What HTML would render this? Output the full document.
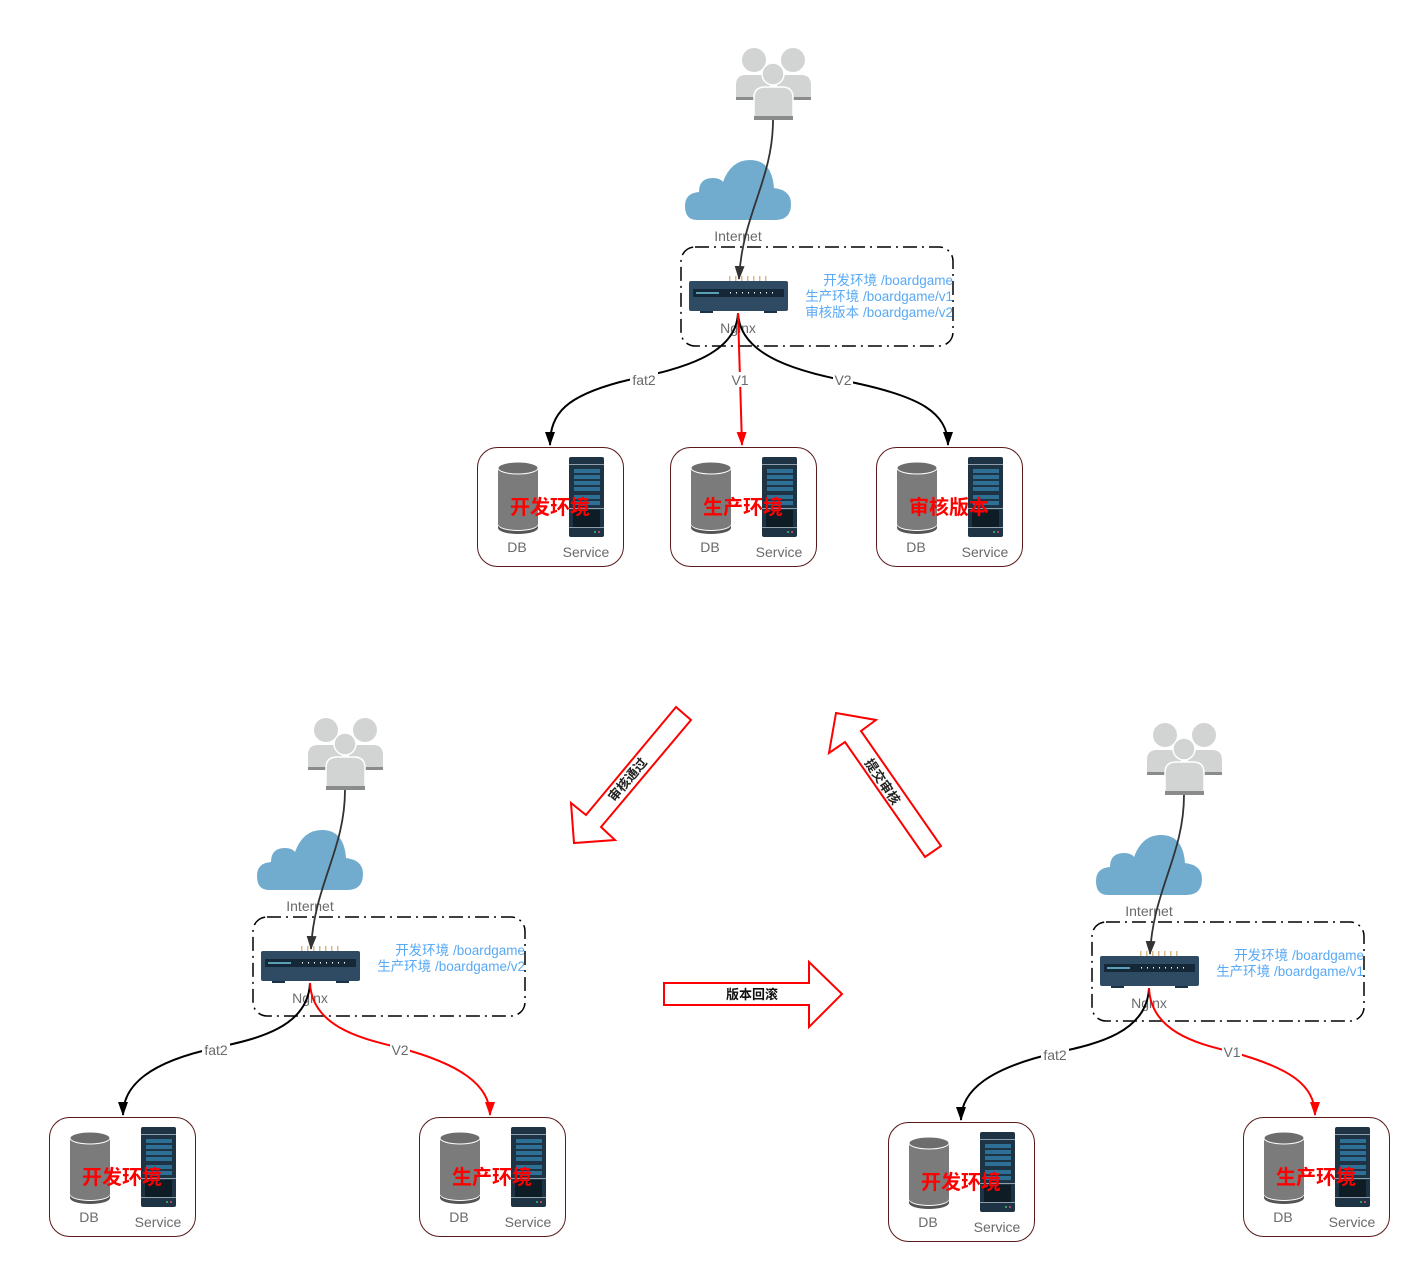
<!DOCTYPE html>
<html><head><meta charset="utf-8"><style>
html,body{margin:0;padding:0;background:#fff;}
svg{display:block;font-family:"Liberation Sans","Noto Sans CJK SC",sans-serif;}
.lbl{font-size:14px;fill:#6a6a6a;}
.route{font-size:13.5px;fill:#58a9f5;}
.title{font-size:20px;font-weight:bold;fill:#ff0000;}
.elbl{font-size:14px;fill:#6a6a6a;}
</style></head><body>
<svg width="1422" height="1274" viewBox="0 0 1422 1274" xmlns="http://www.w3.org/2000/svg">
<defs>
<marker id="ab" viewBox="0 0 14 10" refX="13" refY="5" markerWidth="14" markerHeight="10" orient="auto" markerUnits="userSpaceOnUse"><path d="M0,0 L14,5 L0,10 z" fill="#000"/></marker>
<marker id="ag" viewBox="0 0 14 10" refX="13" refY="5" markerWidth="14" markerHeight="10" orient="auto" markerUnits="userSpaceOnUse"><path d="M0,0 L14,5 L0,10 z" fill="#333"/></marker>
<marker id="ar" viewBox="0 0 14 10" refX="13" refY="5" markerWidth="14" markerHeight="10" orient="auto" markerUnits="userSpaceOnUse"><path d="M0,0 L14,5 L0,10 z" fill="#f00"/></marker>
<g id="users">
 <circle cx="18" cy="13" r="12" fill="#d2d3d3" stroke="#9a9a9a" stroke-width="0" /><circle cx="57" cy="13" r="12" fill="#d2d3d3"/>
 <path d="M0,53 L0,38 Q0,28 10,28 L26,28 Q34,28 34,38 L34,53 z" fill="#d2d3d3"/>
 <path d="M41,53 L41,38 Q41,28 50,28 L65,28 Q75,28 75,38 L75,53 z" fill="#d2d3d3"/>
 <rect x="0" y="50" width="75" height="3" fill="#8a8b8b"/>
 <circle cx="37" cy="27" r="11" fill="#d2d3d3" stroke="#fff" stroke-width="1.5"/>
 <path d="M18,73 L18,51 Q18,40 29,40 L46,40 Q57,40 57,51 L57,73 z" fill="#d2d3d3" stroke="#fff" stroke-width="1.5"/>
 <rect x="18" y="69" width="39" height="4" fill="#8a8b8b"/>
</g>
<g id="cloud">
 <path d="M12,60 Q0,60 0,46 Q0,33 14,32 Q14,18 28,18 Q35,18 38,22 Q46,0 65,0 Q87,0 89,28 Q106,30 106,44 Q106,60 90,60 z" fill="#71acce"/>
</g>
<g id="router">
 <g fill="#d9b98a"><rect x="40" y="0" width="1.5" height="6"/><rect x="46" y="0" width="1.5" height="6"/><rect x="52" y="0" width="1.5" height="6"/><rect x="58" y="0" width="1.5" height="6"/><rect x="64" y="0" width="1.5" height="6"/><rect x="70" y="0" width="1.5" height="6"/><rect x="76" y="0" width="1.5" height="6"/></g>
 <rect x="0" y="5" width="99" height="30" rx="2" fill="#2f4a63"/>
 <rect x="4" y="13" width="91" height="8" fill="#142838"/>
 <rect x="7" y="16" width="23" height="2" fill="#5aa0b5"/>
 <g fill="#fff"><rect x="41" y="16" width="1" height="1.5"/><rect x="47" y="16" width="1" height="1.5"/><rect x="53" y="16" width="1" height="1.5"/><rect x="59" y="16" width="1" height="1.5"/><rect x="65" y="16" width="1" height="1.5"/><rect x="71" y="16" width="1" height="1.5"/><rect x="77" y="16" width="1" height="1.5"/><rect x="83" y="16" width="1" height="1.5"/></g>
 <rect x="11" y="35" width="13" height="2" fill="#1c3246"/><rect x="75" y="35" width="13" height="2" fill="#1c3246"/>
</g>
<g id="env">
 <rect x="0.5" y="0.5" width="146" height="119" rx="20" fill="#fff" stroke="#5a1a1a" stroke-width="1"/>
 <path d="M21,21 L21,77 A20,6 0 0 0 61,77 L61,21 z" fill="#7b7b7b"/>
 <ellipse cx="41" cy="21" rx="20" ry="6" fill="#6d6d6d" stroke="#fff" stroke-width="1"/>
 <path d="M21,78 A20,6 0 0 0 61,78 L61,81 A20,6 0 0 1 21,81 z" fill="#555"/>
 <rect x="92" y="10" width="35" height="80" rx="2" fill="#1e3344"/>
 <rect x="92" y="17" width="35" height="1" fill="#8fa0ad"/>
 <g fill="#2e6f96"><rect x="97" y="22" width="26" height="4"/><rect x="97" y="28" width="26" height="4"/><rect x="97" y="34" width="26" height="4"/><rect x="97" y="40" width="26" height="4"/><rect x="97" y="48" width="26" height="4"/><rect x="97" y="54" width="26" height="4"/></g>
 <rect x="92" y="61" width="35" height="1" fill="#8fa0ad"/>
 <g fill="#0e1c26"><rect x="96" y="63" width="27" height="17"/></g>
 <rect x="92" y="80" width="35" height="1" fill="#8fa0ad"/>
 <circle cx="118" cy="85" r="1" fill="#3fbf70"/><circle cx="122" cy="85" r="1" fill="#e0506a"/>
 <text class="lbl" x="40" y="105" text-anchor="middle">DB</text>
 <text class="lbl" x="109" y="110" text-anchor="middle">Service</text>
</g>
<g id="cluster">
 <use href="#users" x="736" y="47"/>
 <use href="#cloud" x="685" y="160"/>
 <text class="lbl" x="738" y="241" text-anchor="middle">Internet</text>
 <rect x="681" y="247" width="272" height="99" rx="14" fill="none" stroke="#000" stroke-width="1.5" stroke-dasharray="14,5,2,5"/>
 <use href="#router" x="689" y="276"/>
 <text class="lbl" x="738" y="333" text-anchor="middle">Nginx</text>
</g>
</defs>

<use href="#cluster"/>
<path d="M773,120 C773,180 742,215 739,279" fill="none" stroke="#333" stroke-width="1.8" marker-end="url(#ag)"/>
<text class="route" x="953" y="285" text-anchor="end">开发环境 /boardgame</text>
<text class="route" x="953" y="301" text-anchor="end">生产环境 /boardgame/v1</text>
<text class="route" x="953" y="317" text-anchor="end">审核版本 /boardgame/v2</text>
<path d="M738,313 C736,362 660,372 620,382 C568,396 550,412 550,445" fill="none" stroke="#000" stroke-width="2" marker-end="url(#ab)"/>
<path d="M738,313 C740,362 815,374 860,384 C918,397 948,412 948,445" fill="none" stroke="#000" stroke-width="2" marker-end="url(#ab)"/>
<path d="M738,313 L742,445" fill="none" stroke="#f00" stroke-width="2" marker-end="url(#ar)"/>
<rect x="630" y="372" width="28" height="15" fill="#fff"/><text class="elbl" x="644" y="385" text-anchor="middle">fat2</text>
<rect x="730" y="372" width="20" height="15" fill="#fff"/><text class="elbl" x="740" y="385" text-anchor="middle">V1</text>
<rect x="833" y="372" width="20" height="15" fill="#fff"/><text class="elbl" x="843" y="385" text-anchor="middle">V2</text>
<use href="#env" x="477" y="447"/><text class="title" x="550" y="514" text-anchor="middle">开发环境</text>
<use href="#env" x="670" y="447"/><text class="title" x="743" y="514" text-anchor="middle">生产环境</text>
<use href="#env" x="876" y="447"/><text class="title" x="949" y="514" text-anchor="middle">审核版本</text>

<g transform="translate(-428,670)">
 <use href="#cluster"/>
 <path d="M773,120 C773,180 742,215 739,279" fill="none" stroke="#333" stroke-width="1.8" marker-end="url(#ag)"/>
 <text class="route" x="953" y="285" text-anchor="end">开发环境 /boardgame</text>
 <text class="route" x="953" y="301" text-anchor="end">生产环境 /boardgame/v2</text>
</g>
<path d="M310,983 C308,1030 250,1040 215,1048 C150,1062 123,1085 123,1115" fill="none" stroke="#000" stroke-width="2" marker-end="url(#ab)"/>
<path d="M310,983 C312,1030 370,1040 400,1048 C460,1064 490,1085 490,1115" fill="none" stroke="#f00" stroke-width="2" marker-end="url(#ar)"/>
<rect x="202" y="1042" width="28" height="15" fill="#fff"/><text class="elbl" x="216" y="1055" text-anchor="middle">fat2</text>
<rect x="390" y="1042" width="20" height="15" fill="#fff"/><text class="elbl" x="400" y="1055" text-anchor="middle">V2</text>
<use href="#env" x="49" y="1117"/><text class="title" x="122" y="1184" text-anchor="middle">开发环境</text>
<use href="#env" x="419" y="1117"/><text class="title" x="492" y="1184" text-anchor="middle">生产环境</text>

<g transform="translate(411,675)">
 <use href="#cluster"/>
 <path d="M773,120 C773,180 742,215 739,279" fill="none" stroke="#333" stroke-width="1.8" marker-end="url(#ag)"/>
 <text class="route" x="953" y="285" text-anchor="end">开发环境 /boardgame</text>
 <text class="route" x="953" y="301" text-anchor="end">生产环境 /boardgame/v1</text>
</g>
<path d="M1149,988 C1147,1035 1090,1045 1055,1053 C990,1068 961,1090 961,1120" fill="none" stroke="#000" stroke-width="2" marker-end="url(#ab)"/>
<path d="M1149,988 C1151,1035 1205,1045 1232,1052 C1290,1068 1315,1085 1315,1115" fill="none" stroke="#f00" stroke-width="2" marker-end="url(#ar)"/>
<rect x="1041" y="1047" width="28" height="15" fill="#fff"/><text class="elbl" x="1055" y="1060" text-anchor="middle">fat2</text>
<rect x="1222" y="1044" width="20" height="15" fill="#fff"/><text class="elbl" x="1232" y="1057" text-anchor="middle">V1</text>
<use href="#env" x="888" y="1122"/><text class="title" x="961" y="1189" text-anchor="middle">开发环境</text>
<use href="#env" x="1243" y="1117"/><text class="title" x="1316" y="1184" text-anchor="middle">生产环境</text>

<polygon points="676,707 691,720 601,827 615,840 574,843 571,803 586,815" fill="#fff" stroke="#f00" stroke-width="2"/>
<text x="628" y="784" font-size="13" font-weight="bold" fill="#222" text-anchor="middle" transform="rotate(-50 628 780)">审核通过</text>
<polygon points="836,713 876,720 861,731 941,846 925,857 845,742 829,753" fill="#fff" stroke="#f00" stroke-width="2"/>
<text x="882" y="786" font-size="13" font-weight="bold" fill="#222" text-anchor="middle" transform="rotate(56 882 782)">提交审核</text>
<polygon points="664,983 809,983 809,962 842,994 809,1027 809,1005 664,1005" fill="#fff" stroke="#f00" stroke-width="2"/>
<text x="752" y="999" font-size="13" font-weight="bold" fill="#111" text-anchor="middle">版本回滚</text>
</svg>
</body></html>
